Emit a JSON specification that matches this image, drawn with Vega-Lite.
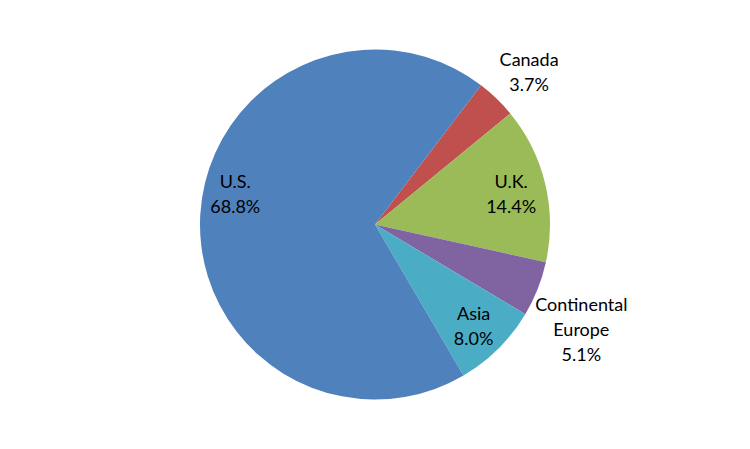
{
  "$schema": "https://vega.github.io/schema/vega-lite/v6.json",
  "width": 750,
  "height": 449,
  "autosize": {"type": "fit", "contains": "padding"},
  "background": "white",
  "view": {"stroke": null},
  "data": {
    "values": [
      {"region": "Canada", "share": 3.7, "order": 1, "place": "top"},
      {"region": "U.K.", "share": 14.4, "order": 2, "place": "inside"},
      {"region": "Continental\nEurope", "share": 5.1, "order": 3, "place": "outside"},
      {"region": "Asia", "share": 8.0, "order": 4, "place": "inside"},
      {"region": "U.S.", "share": 68.8, "order": 5, "place": "main"}
    ]
  },
  "transform": [
    {"calculate": "datum.region + '\\n' + format(datum.share, '.1f') + '%'", "as": "label"}
  ],
  "encoding": {
    "theta": {"field": "share", "type": "quantitative", "stack": true, "scale": {"range": [0.651, 6.9342]}},
    "order": {"field": "order", "type": "quantitative"}
  },
  "layer": [
    {
      "mark": {"type": "arc", "outerRadius": 175},
      "encoding": {
        "color": {
          "field": "region",
          "type": "nominal",
          "legend": null,
          "scale": {
            "domain": ["Canada", "U.K.", "Continental\nEurope", "Asia", "U.S."],
            "range": ["#C0504D", "#9BBB59", "#8064A2", "#4BACC6", "#4F81BD"]
          }
        }
      }
    },
    {
      "mark": {"type": "text", "radius": 140, "dy": -9, "font": "Lato", "fontSize": 18, "lineBreak": "\n", "lineHeight": 25, "baseline": "middle", "align": "center", "color": "black"},
      "encoding": {"text": {"condition": {"test": "datum.place == 'inside'", "field": "label"}, "value": ""}}
    },
    {
      "mark": {"type": "text", "radius": 140, "dy": -33, "font": "Lato", "fontSize": 18, "lineBreak": "\n", "lineHeight": 25, "baseline": "middle", "align": "center", "color": "black"},
      "encoding": {"text": {"condition": {"test": "datum.place == 'main'", "field": "label"}, "value": ""}}
    },
    {
      "mark": {"type": "text", "radius": 222, "dy": -4, "font": "Lato", "fontSize": 18, "lineBreak": "\n", "lineHeight": 25, "baseline": "middle", "align": "center", "color": "black"},
      "encoding": {"text": {"condition": {"test": "datum.place == 'top'", "field": "label"}, "value": ""}}
    },
    {
      "mark": {"type": "text", "radius": 222, "font": "Lato", "fontSize": 18, "lineBreak": "\n", "lineHeight": 25, "baseline": "middle", "align": "center", "color": "black"},
      "encoding": {"text": {"condition": {"test": "datum.place == 'outside'", "field": "label"}, "value": ""}}
    }
  ]
}
